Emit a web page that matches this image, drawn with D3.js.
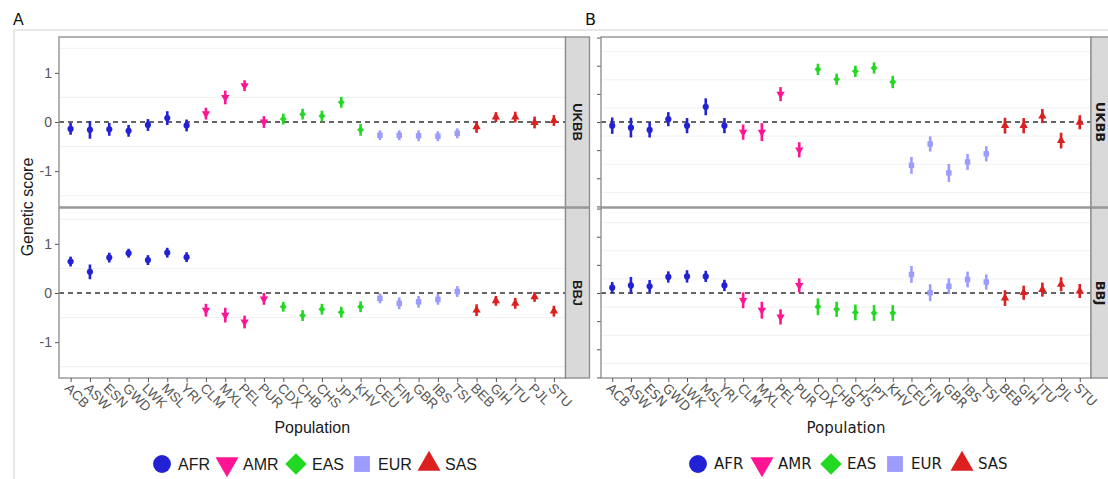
<!DOCTYPE html>
<html>
<head>
<meta charset="utf-8">
<script src="https://cdn.jsdelivr.net/npm/d3@7"></script>
<style>
  body { margin: 0; background: #fff; }
  svg { display: block; }
</style>
</head>
<body>
<svg id="chart" width="1108" height="479"></svg>
<script>
// populations along the x axis and their super-population
var populations = ["ACB","ASW","ESN","GWD","LWK","MSL","YRI","CLM","MXL","PEL","PUR","CDX","CHB","CHS","JPT","KHV","CEU","FIN","GBR","IBS","TSI","BEB","GIH","ITU","PJL","STU"];
var superPops = ["AFR","AFR","AFR","AFR","AFR","AFR","AFR","AMR","AMR","AMR","AMR","EAS","EAS","EAS","EAS","EAS","EUR","EUR","EUR","EUR","EUR","SAS","SAS","SAS","SAS","SAS"];
var legendKeys = ["AFR","AMR","EAS","EUR","SAS"];
var keyColors = ["#2222d4","#ff1493","#22d822","#9c9cff","#dc2020"];

// panel A
var ukbbA    = [-0.14,-0.16,-0.15,-0.18,-0.06,0.08,-0.07,0.17,0.50,0.74,0.00,0.06,0.16,0.12,0.40,-0.16,-0.27,-0.27,-0.28,-0.29,-0.23,-0.10,0.10,0.10,-0.01,0.03];
var ukbbAErr = [0.12,0.18,0.13,0.12,0.12,0.14,0.12,0.12,0.14,0.11,0.12,0.11,0.11,0.11,0.11,0.12,0.10,0.10,0.11,0.10,0.10,0.12,0.10,0.11,0.12,0.11];
var bbjA     = [0.64,0.43,0.72,0.81,0.67,0.82,0.73,-0.35,-0.45,-0.59,-0.12,-0.28,-0.46,-0.33,-0.39,-0.28,-0.11,-0.21,-0.18,-0.13,0.03,-0.35,-0.16,-0.21,-0.08,-0.37];
var bbjAErr  = [0.10,0.15,0.10,0.09,0.10,0.10,0.10,0.13,0.15,0.13,0.12,0.10,0.11,0.11,0.11,0.11,0.10,0.12,0.12,0.11,0.11,0.12,0.10,0.11,0.10,0.11];
var yTicksA  = [-1, 0, 1];

// panel B
var ukbbB    = [-0.13,-0.20,-0.28,0.10,-0.13,0.54,-0.13,-0.36,-0.36,0.99,-0.99,1.87,1.52,1.80,1.92,1.42,-1.54,-0.78,-1.81,-1.42,-1.13,-0.13,-0.13,0.21,-0.66,-0.01];
var ukbbBErr = [0.29,0.35,0.27,0.25,0.27,0.30,0.27,0.27,0.32,0.25,0.27,0.20,0.20,0.20,0.20,0.22,0.30,0.27,0.32,0.28,0.27,0.28,0.27,0.25,0.28,0.25];
var bbjB     = [0.19,0.27,0.24,0.57,0.59,0.59,0.27,-0.26,-0.61,-0.85,0.27,-0.49,-0.58,-0.69,-0.71,-0.71,0.66,0.01,0.24,0.48,0.39,-0.18,0.01,0.12,0.31,0.07];
var bbjBErr  = [0.20,0.30,0.22,0.20,0.22,0.20,0.20,0.28,0.30,0.27,0.25,0.30,0.27,0.28,0.28,0.28,0.30,0.30,0.28,0.28,0.27,0.28,0.25,0.25,0.25,0.25];
var yTicksB  = [-3, -2, -1, 0, 1, 2, 3];

var svg = d3.select("#chart");
var color = d3.scaleOrdinal().domain(legendKeys).range(keyColors);

function symbolFor(key, size) {
    // diamond = square turned 45 degrees, see rotation below
    var types = { AFR: d3.symbolCircle, AMR: d3.symbolTriangle, EAS: d3.symbolSquare, EUR: d3.symbolSquare, SAS: d3.symbolTriangle };
    return d3.symbol().type(types[key]).size(size)();
}
function rotFor(key) {
    if (key === "AMR") return " rotate(180)";
    if (key === "EAS") return " rotate(45)";
    return "";
}

// outer frame lines
svg.append("line").attr("x1", 14).attr("x2", 1108).attr("y1", 30).attr("y2", 30)
    .attr("stroke", "#d0d0d0").attr("stroke-width", 1);
svg.append("line").attr("x1", 14).attr("x2", 14).attr("y1", 30).attr("y2", 479)
    .attr("stroke", "#d0d0d0").attr("stroke-width", 1);

function drawPanel(cfg) {
    var g = svg.append("g");
    var font = cfg.font;

    g.append("text").attr("x", cfg.labelX).attr("y", 25)
        .attr("font-family", font).attr("font-size", 16).attr("fill", "#111")
        .text(cfg.label);

    var x = d3.scalePoint().domain(populations).range([cfg.x0, cfg.x1]).padding(0.6);

    var facets = [
        { name: "UKBB", vals: cfg.ukbb, err: cfg.ukbbErr, top: 37, bottom: 207 },
        { name: "BBJ", vals: cfg.bbj, err: cfg.bbjErr, top: 208, bottom: 378 }
    ];

    facets.forEach(function (f) {
        var y = d3.scaleLinear().domain([-cfg.ymax, cfg.ymax]).range([f.bottom, f.top]);

        // faint minor grid at half steps
        var minor = cfg.ticks.slice(0, -1).map(function (t) { return t + 0.5; });
        minor.unshift(cfg.ticks[0] - 0.5);
        minor.push(cfg.ticks[cfg.ticks.length - 1] + 0.5);
        g.selectAll(null).data(minor.filter(function (m) { return Math.abs(m) < cfg.ymax; }))
            .enter().append("line")
            .attr("x1", cfg.x0).attr("x2", cfg.x1)
            .attr("y1", function (d) { return y(d); }).attr("y2", function (d) { return y(d); })
            .attr("stroke", "#f0f0f0").attr("stroke-width", 1);

        // dashed zero line
        g.append("line").attr("x1", cfg.x0).attr("x2", cfg.x1)
            .attr("y1", y(0)).attr("y2", y(0))
            .attr("stroke", "#333").attr("stroke-width", 1.3).attr("stroke-dasharray", "5,4");

        // y axis
        var axis = d3.axisLeft(y).tickValues(cfg.ticks).tickSize(4).tickPadding(3)
            .tickFormat(cfg.showTickLabels ? function (d) { return d < 0 ? "-" + Math.abs(d) : d; } : "");
        var ax = g.append("g").attr("transform", "translate(" + cfg.x0 + ",0)").call(axis);
        ax.select(".domain").remove();
        ax.selectAll(".tick line").attr("stroke", "#555");
        ax.selectAll(".tick text").attr("font-family", font).attr("font-size", 14).attr("fill", "#555");

        // error bars
        g.selectAll(null).data(populations).enter().append("line")
            .attr("x1", function (d) { return x(d); }).attr("x2", function (d) { return x(d); })
            .attr("y1", function (d, i) { return y(f.vals[i] - f.err[i]); })
            .attr("y2", function (d, i) { return y(f.vals[i] + f.err[i]); })
            .attr("stroke", function (d, i) { return color(superPops[i]); })
            .attr("stroke-width", 2.6);

        // points
        g.selectAll(null).data(populations).enter().append("path")
            .attr("d", function (d, i) { return symbolFor(superPops[i], superPops[i] === "EAS" ? 24 : 30); })
            .attr("transform", function (d, i) {
                return "translate(" + x(d) + "," + y(f.vals[i]) + ")" + rotFor(superPops[i]);
            })
            .attr("fill", function (d, i) { return color(superPops[i]); });

        // panel border
        g.append("rect").attr("x", cfg.x0).attr("y", f.top)
            .attr("width", cfg.x1 - cfg.x0).attr("height", f.bottom - f.top)
            .attr("fill", "none").attr("stroke", "#8a8a8a").attr("stroke-width", 1.3);

        // strip
        g.append("rect").attr("x", cfg.x1).attr("y", f.top)
            .attr("width", 24).attr("height", f.bottom - f.top)
            .attr("fill", "#d9d9d9").attr("stroke", "#8a8a8a").attr("stroke-width", 1.3);
        var cx = cfg.x1 + cfg.stripTextOff, cy = (f.top + f.bottom) / 2;
        g.append("text").attr("transform", "translate(" + cx + "," + cy + ") rotate(90)")
            .attr("text-anchor", "middle").attr("dy", "0.35em")
            .attr("font-family", font).attr("font-size", 13).attr("font-weight", "bold").attr("fill", "#1a1a1a")
            .text(f.name);
    });

    // x axis ticks and labels
    var xa = g.append("g").attr("transform", "translate(0,378)")
        .call(d3.axisBottom(x).tickSize(4).tickFormat(""));
    xa.select(".domain").remove();
    xa.selectAll(".tick line").attr("stroke", "#555");

    g.selectAll(null).data(populations).enter().append("text")
        .attr("transform", function (d) { return "translate(" + (x(d) - 6.5) + ",389) rotate(45)"; })
        .attr("font-family", font).attr("font-size", cfg.tickSize).attr("fill", "#555")
        .text(function (d) { return d; });

    g.append("text").attr("x", (cfg.x0 + cfg.x1) / 2).attr("y", 433)
        .attr("text-anchor", "middle").attr("font-family", font).attr("font-size", cfg.titleSize).attr("fill", "#1a1a1a")
        .text("Population");

    // legend
    var lg = g.append("g");
    legendKeys.forEach(function (k, i) {
        var lx = cfg.legendX[i];
        var sz = { AFR: 250, AMR: 230, EAS: 230, EUR: 250, SAS: 230 }[k];
        lg.append("path")
            .attr("d", symbolFor(k, sz))
            .attr("transform", "translate(" + lx + ",464)" + rotFor(k))
            .attr("fill", color(k));
        lg.append("text").attr("x", lx + 16).attr("y", 464).attr("dy", "0.35em")
            .attr("font-family", font).attr("font-size", cfg.titleSize).attr("fill", "#1a1a1a")
            .text(k);
    });
}

drawPanel({
    label: "A", labelX: 13, font: "Liberation Sans, Arial, sans-serif",
    x0: 59, x1: 565.5, ymax: 1.73, ticks: yTicksA, showTickLabels: true, stripTextOff: 12,
    tickSize: 13.5, titleSize: 16,
    ukbb: ukbbA, ukbbErr: ukbbAErr, bbj: bbjA, bbjErr: bbjAErr,
    legendX: [162, 227, 296, 362, 429]
});

drawPanel({
    label: "B", labelX: 585, font: "DejaVu Sans, sans-serif",
    x0: 601, x1: 1091, ymax: 3.02, ticks: yTicksB, showTickLabels: false, stripTextOff: 10,
    tickSize: 13, titleSize: 15,
    ukbb: ukbbB, ukbbErr: ukbbBErr, bbj: bbjB, bbjErr: bbjBErr,
    legendX: [698, 762, 831, 895, 962]
});

svg.append("text").attr("transform", "translate(33,207) rotate(-90)")
    .attr("text-anchor", "middle").attr("font-family", "Liberation Sans, Arial, sans-serif")
    .attr("font-size", 16).attr("fill", "#1a1a1a")
    .text("Genetic score");
</script>
</body>
</html>
